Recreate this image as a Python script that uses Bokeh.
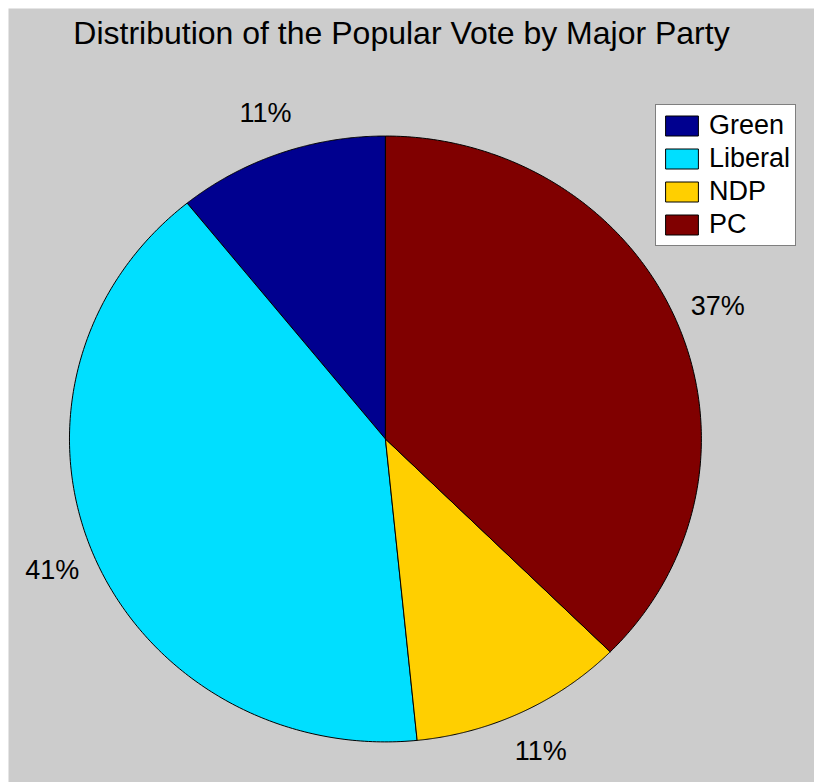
import numpy as np
from bokeh.plotting import figure
from bokeh.models import Legend, LegendItem, Label, ColumnDataSource, Range1d
from bokeh.core.properties import value
from bokeh.embed import file_html
from bokeh.resources import INLINE

# ---- data ----
parties = ["Green", "Liberal", "NDP", "PC"]
vote_share = [10.8, 40.8, 11.0, 37.4]
colors = ["#00008F", "#00DFFF", "#FFCF00", "#800000"]
title_text = "Distribution of the Popular Vote by Major Party"

FONT = "Liberation Sans"

p = figure(width=806, height=774, output_backend="svg", toolbar_location=None,
           x_range=Range1d(-1.193, 1.358), y_range=Range1d(-1.134, 1.421),
           min_border=0, background_fill_color="#CCCCCC",
           border_fill_color="#CCCCCC", outline_line_color=None)
p.margin = (8, 0, 0, 8)
p.axis.visible = False
p.grid.visible = False

total = float(sum(vote_share))
fracs = np.array(vote_share) / total
# slices go counter-clockwise starting from the top (like MATLAB pie)
starts = np.pi / 2 + 2 * np.pi * np.concatenate([[0], np.cumsum(fracs)[:-1]])
ends = starts + 2 * np.pi * fracs

items = []
for name, s, e, c in zip(parties, starts, ends, colors):
    t = np.linspace(s, e, 200)
    xs = np.concatenate([[0.0], np.cos(t), [0.0]])
    ys = np.concatenate([[0.0], np.sin(t), [0.0]])
    r = p.patch(xs, ys, fill_color=c, line_color="black", line_width=1)
    items.append(LegendItem(label=name, renderers=[r]))

# percentage labels
mid = (starts + ends) / 2
lab_r = 1.14
labels = ["%d%%" % round(f * 100) for f in fracs]
src = ColumnDataSource(dict(x=lab_r * np.cos(mid), y=lab_r * np.sin(mid), text=labels))
p.text(x="x", y="y", text="text", source=src, text_align="center",
       text_baseline="middle", text_font=value(FONT), text_font_size="27px",
       text_color="black")

legend = Legend(items=items, location=(647, 536), orientation="vertical",
                glyph_width=41, glyph_height=25, label_height=25,
                label_standoff=7, spacing=2, padding=5, margin=0,
                label_text_font=FONT, label_text_font_size="27px",
                label_text_line_height=1.0,
                label_text_color="black",
                border_line_color="black", border_line_width=1,
                background_fill_color="white", background_fill_alpha=1.0)
p.add_layout(legend, "center")

title = Label(x=393, y=750, x_units="screen", y_units="screen", text=title_text,
              text_align="center", text_baseline="alphabetic",
              text_font=FONT, text_font_size="32px", text_color="black")
p.add_layout(title)

open("out.html", "w").write(file_html(p, INLINE))
